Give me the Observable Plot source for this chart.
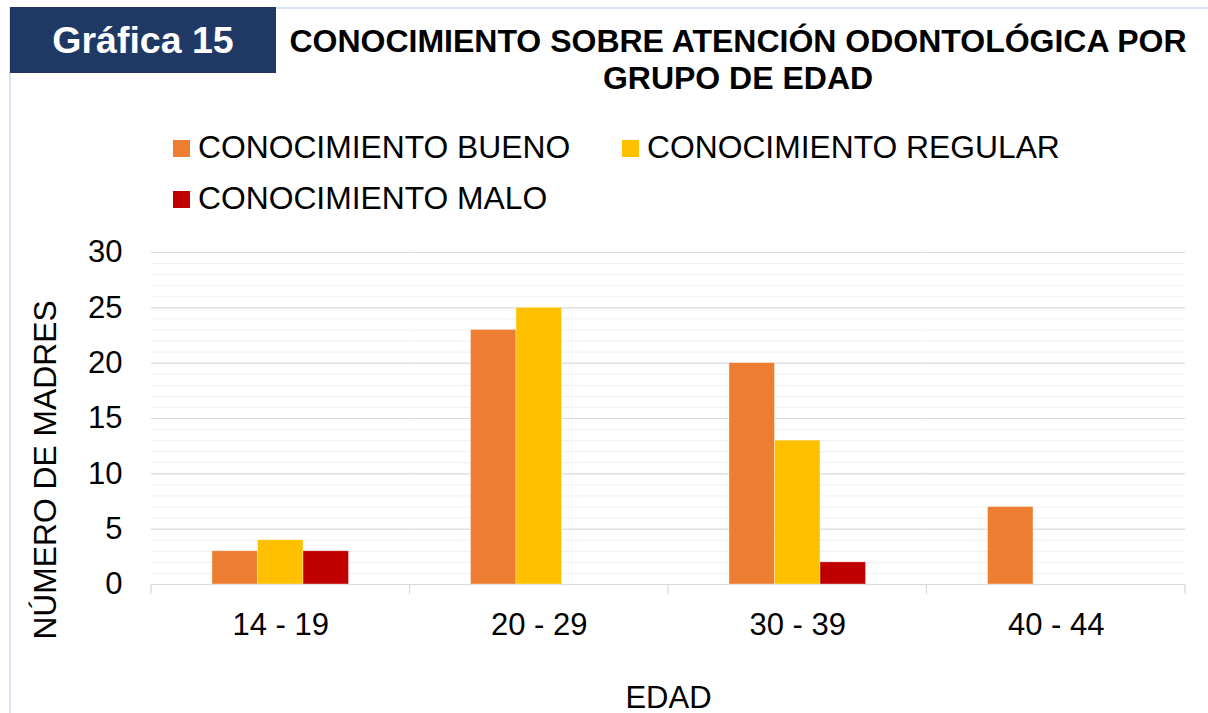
<!DOCTYPE html>
<html>
<head>
<meta charset="utf-8">
<script src="https://cdn.jsdelivr.net/npm/d3@7"></script>
<script src="https://cdn.jsdelivr.net/npm/@observablehq/plot@0.6"></script>
<style>
  html, body { margin: 0; padding: 0; background: #fff; width: 1208px; height: 713px; overflow: hidden; }
  body { position: relative; font-family: "Liberation Sans", Arial, sans-serif; color: #000; }
  #frame { position: absolute; left: 9px; top: 7px; width: 1300px; height: 800px; border: 2px solid #dae3f3; box-sizing: border-box; }
  #badge { position: absolute; left: 10px; top: 7px; width: 266px; height: 66px; background: #1f3864; color: #fff;
           font-weight: bold; font-size: 37.5px; line-height: 66px; text-align: center; }
  #title { position: absolute; left: 276px; width: 924px; top: 23px; text-align: center; font-weight: bold;
           font-size: 32px; line-height: 37px; }
  #legend { position: absolute; left: 173px; top: 122px; width: 960px; display: flex; flex-wrap: wrap; font-size: 31.8px; }
  .item { display: inline-flex; align-items: center; height: 51px; white-space: nowrap; }
  .sw { width: 17px; height: 17px; margin-right: 8px; margin-top: 2px; }
  #ylab { position: absolute; left: 45px; top: 470px; transform: translate(-50%, -50%) rotate(-90deg);
          font-size: 31.8px; white-space: nowrap; }
  #chart { position: absolute; left: 0; top: 230px; }
</style>
</head>
<body>
<div id="frame"></div>
<div id="badge">Gráfica 15</div>
<div id="title">CONOCIMIENTO SOBRE ATENCIÓN ODONTOLÓGICA POR<br>GRUPO DE EDAD</div>
<div id="legend"></div>
<div id="ylab">NÚMERO DE MADRES</div>
<div id="chart"></div>
<script>
// ---- data ----
const groups = ["14 - 19", "20 - 29", "30 - 39", "40 - 44"];
const series = ["CONOCIMIENTO BUENO", "CONOCIMIENTO REGULAR", "CONOCIMIENTO MALO"];
const bueno = [3, 23, 20, 7];
const regular = [4, 25, 13, 0];
const malo = [3, 0, 2, 0];
const colors = ["#ED7D31", "#FFC000", "#C00000"];
const yMajorTicks = [0, 5, 10, 15, 20, 25, 30];
const yMinorTicks = d3.range(0, 31, 1);
const xTitle = "EDAD";

const valuesBySeries = [bueno, regular, malo];
const table = groups.flatMap((g, i) =>
  series.map((s, j) => ({ group: g, series: s, value: valuesBySeries[j][i] }))
).filter(d => d.value > 0);

// ---- legend ----
const legend = document.getElementById("legend");
series.forEach((s, j) => {
  const it = document.createElement("div");
  it.className = "item";
  if (j === 0) it.style.width = "449px";
  const sw = document.createElement("span");
  sw.className = "sw";
  sw.style.background = colors[j];
  const tx = document.createElement("span");
  tx.textContent = s;
  it.appendChild(sw); it.appendChild(tx);
  legend.appendChild(it);
});

// ---- chart ----
const chart = Plot.plot({
  width: 1208,
  height: 483,
  marginTop: 22,
  marginBottom: 129,
  marginLeft: 151,
  marginRight: 23,
  style: { fontFamily: "'Liberation Sans', Arial, sans-serif", color: "#000", background: "transparent", overflow: "visible" },
  fx: { domain: groups, padding: 0, round: false },
  x: { domain: series, paddingInner: 0, paddingOuter: 1.34, round: false, axis: null },
  y: { domain: [0, 30] },
  color: { domain: series, range: colors },
  marks: [
    Plot.gridY(yMinorTicks, { stroke: "#efefef", strokeOpacity: 1 }),
    Plot.gridY(yMajorTicks, { stroke: "#d9d9d9", strokeOpacity: 1 }),
    Plot.ruleY([0], { stroke: "#d9d9d9", strokeWidth: 1.2 }),
    Plot.barY(table, { fx: "group", x: "series", y: "value", fill: "series", stroke: "#fff", strokeWidth: 0.6, strokeOpacity: 0.6 }),
    Plot.axisY(yMajorTicks, { tickSize: 0, tickPadding: 29, fontSize: 31, label: null }),
    Plot.axisFx({ anchor: "bottom", tickSize: 0, tickPadding: 28, fontSize: 31, label: xTitle, labelAnchor: "center", labelOffset: 123, labelArrow: "none" })
  ]
});

// boundary tick marks between age groups, computed from the fx scale
const fx = chart.scale("fx");
const y = chart.scale("y");
const bounds = groups.map(g => fx.apply(g)).concat([fx.apply(groups[groups.length - 1]) + fx.bandwidth]);
const y0 = y.apply(0);
d3.select(chart).append("g")
  .attr("stroke", "#d9d9d9").attr("stroke-width", 1.2)
  .selectAll("line").data(bounds).join("line")
  .attr("x1", d => d).attr("x2", d => d)
  .attr("y1", y0).attr("y2", y0 + 10);

document.getElementById("chart").appendChild(chart);
</script>
</body>
</html>
